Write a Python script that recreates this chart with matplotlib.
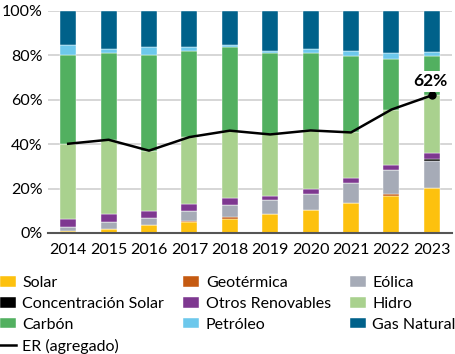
import numpy as np
import matplotlib.pyplot as plt
from matplotlib.lines import Line2D

plt.rcParams['font.family'] = ['Lato', 'DejaVu Sans']

# data (% of generation)
years = ['2014', '2015', '2016', '2017', '2018', '2019', '2020', '2021', '2022', '2023']
solar = [1.0, 1.8, 3.4, 5.0, 6.4, 8.4, 10.2, 13.5, 16.8, 20.1]
geotermica = [0.1, 0.1, 0.1, 0.3, 0.9, 0.2, 0.2, 0.2, 0.8, 0.3]
eolica = [1.6, 3.1, 3.1, 4.7, 5.1, 6.4, 7.2, 8.8, 10.8, 12.2]
conc_solar = [0, 0, 0, 0, 0, 0, 0, 0, 0, 0.9]
otros = [3.7, 3.4, 3.4, 3.2, 3.5, 1.8, 2.4, 2.5, 2.4, 2.5]
hidro = [33.8, 33.6, 27.1, 30.0, 30.2, 27.6, 26.2, 20.3, 24.8, 26.0]
carbon = [40.1, 39.1, 43.2, 38.6, 37.5, 36.7, 34.9, 34.3, 22.9, 17.6]
petroleo = [4.2, 1.9, 3.5, 1.8, 0.9, 1.0, 1.9, 2.5, 2.6, 1.8]
gas = [15.5, 17.0, 16.2, 16.4, 15.5, 17.9, 17.0, 17.9, 18.9, 18.6]
er_agregado = [40.2, 42.0, 37.1, 43.2, 46.1, 44.4, 46.2, 45.3, 55.6, 62.0]

series = [
    ('Solar', solar, '#FDC10E'),
    ('Geotérmica', geotermica, '#C55A11'),
    ('Eólica', eolica, '#A6ABB7'),
    ('Concentración Solar', conc_solar, '#000000'),
    ('Otros Renovables', otros, '#7E3890'),
    ('Hidro', hidro, '#A9D18E'),
    ('Carbón', carbon, '#52B060'),
    ('Petróleo', petroleo, '#6DC8EC'),
    ('Gas Natural', gas, '#00618A'),
]

fs = 11.5

fig = plt.figure(figsize=(4.56, 3.54), dpi=100)
ax = fig.add_axes([48 / 456, 1 - 233 / 354, 404 / 456, 222 / 354])

x = np.arange(len(years))
bottom = np.zeros(len(years))
handles = {}
for name, vals, col in series:
    vals = np.array(vals)
    b = ax.bar(x, vals, 0.4, bottom=bottom, color=col, edgecolor='white',
               linewidth=0.3, zorder=2, label=name)
    handles[name] = b
    bottom += vals

ax.plot(x, er_agregado, color='black', lw=1.8, zorder=4,
        marker='o', markevery=[len(x) - 1], markersize=5)
ax.annotate(f'{er_agregado[-1]:.0f}%', (x[-1], er_agregado[-1]), xytext=(-1, 10),
            textcoords='offset points', ha='center', va='center',
            fontsize=12.5, fontweight='bold', zorder=5,
            bbox=dict(facecolor='white', edgecolor='none', pad=2.0))

ax.set_xlim(-0.5, len(years) - 0.5)
ax.set_ylim(0, 100)
ax.set_yticks([0, 20, 40, 60, 80, 100])
ax.set_yticklabels([f'{v}%' for v in [0, 20, 40, 60, 80, 100]])
ax.set_xticks(x)
ax.set_xticklabels(years)
ax.tick_params(length=0, labelsize=fs)
ax.tick_params(axis='x', pad=7)
ax.tick_params(axis='y', pad=4)
ax.grid(axis='y', color='#d0d0d0', lw=1.2, zorder=0)
ax.set_axisbelow(True)
for s in ['top', 'right', 'left']:
    ax.spines[s].set_visible(False)
ax.spines['bottom'].set_color('#555555')
ax.spines['bottom'].set_linewidth(1.5)

er_handle = Line2D([], [], color='black', lw=1.8)
order = ['Solar', 'Concentración Solar', 'Carbón', None,
         'Geotérmica', 'Otros Renovables', 'Petróleo',
         'Eólica', 'Hidro', 'Gas Natural']
h = [er_handle if n is None else handles[n] for n in order]
l = ['ER (agregado)' if n is None else n for n in order]
fig.legend(h, l, loc='upper left', bbox_to_anchor=(0, 1 - 276 / 354), ncol=3,
           frameon=False, fontsize=fs, borderaxespad=0, borderpad=0,
           handlelength=1.0, handleheight=0.65, handletextpad=0.4,
           columnspacing=1.2, labelspacing=0.43)

fig.savefig('out.png', dpi=100)
